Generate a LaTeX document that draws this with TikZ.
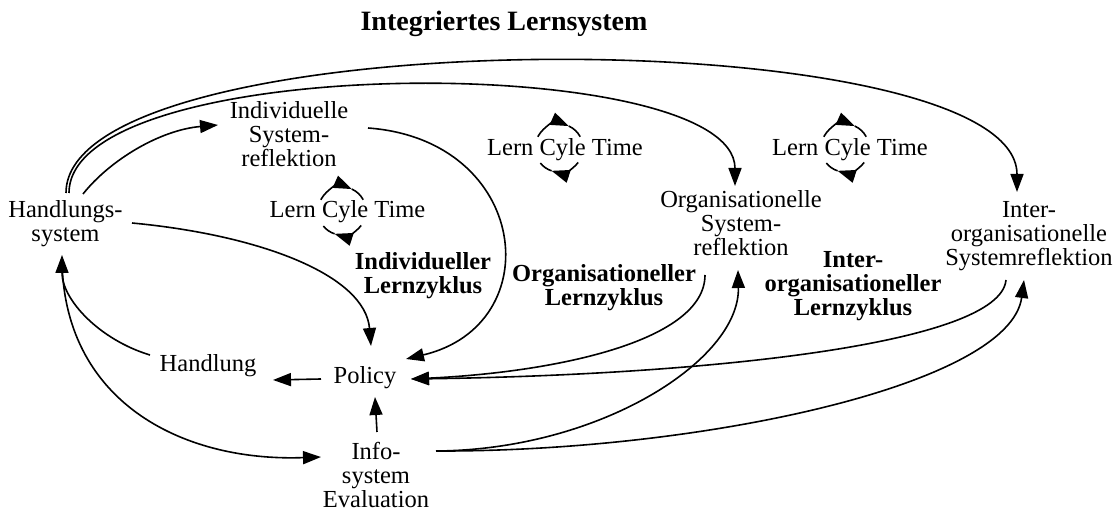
\documentclass[tikz,border=0pt]{standalone}
\usepackage{fontspec}
\setmainfont{Liberation Serif}
\usetikzlibrary{arrows.meta}
\tikzset{
  lcyc/.pic={
    \begin{scope}[x=0.5pt,y=0.5pt]
    \draw[con] (152:24) arc[start angle=152, end angle=66, radius=24];
    \draw[plainline] (66:24) arc[start angle=66, end angle=28, radius=24];
    \draw[con] (-37:24) arc[start angle=-37, end angle=-108, radius=24];
    \draw[plainline] (-108:24) arc[start angle=-108, end angle=-141, radius=24];
    \end{scope}
  }
}
\begin{document}
\begin{tikzpicture}[x=0.5pt,y=-0.5pt,
  every node/.style={inner sep=0pt, align=center, anchor=base, font=\fontsize{12.25pt}{12pt}\selectfont},
  boldtext/.style={font=\fontsize{12.25pt}{12pt}\selectfont\bfseries},
  con/.style={line width=0.8pt, -{Triangle[length=9pt,width=6.5pt]}},
  plainline/.style={line width=0.8pt},
]
\useasboundingbox (0,0) rectangle (1114,517);
% multi-line nodes are placed by the baseline of their last line
\node (title) at (504,31) [font=\fontsize{14pt}{16pt}\selectfont\bfseries] {Integriertes Lernsystem};
\node (hs) at (65.5,242) {Handlungs-\\system};
\node (lct1) at (347.5,218) {Lern Cyle Time};
\node (lct2) at (565,156) {Lern Cyle Time};
\node (lct3) at (850,156) {Lern Cyle Time};
\node (ind) at (289,167) {Individuelle\\System-\\reflektion};
\node (org) at (741,256) {Organisationelle\\System-\\reflektion};
\node (inter) at (1029,266) {Inter-\\organisationelle\\Systemreflektion};
\node[boldtext] (lz1) at (423,294) {Individueller\\Lernzyklus};
\node[boldtext] (lz2) at (604,306) {Organisationeller\\Lernzyklus};
\node[boldtext] (lz3) at (853,316) {Inter-\\organisationeller\\Lernzyklus};
\node (handlung) at (208,372) {Handlung};
\node (policy) at (365,384) {Policy};
\node (info) at (376,508) {Info-\\system\\Evaluation};

\pic at (342,211) {lcyc};
\pic at (559,148) {lcyc};
\pic at (845,148) {lcyc};

\draw[con] ([shift={(3.5,-49)}]hs.base) .. controls (69,51) and (735,51) .. ([shift={(-6,-70)}]org.base);
\draw[con] ([shift={(0.5,-49)}]hs.base) .. controls (66,18) and (1017,18) .. ([shift={(-12,-74)}]inter.base);
\draw[con] ([shift={(17.5,-48)}]hs.base) .. controls (110,160) and (160,130) .. ([shift={(-71,-42)}]ind.base);
\draw[con] ([shift={(66.5,-19)}]hs.base) .. controls (260,235) and (365,275) .. ([shift={(6,-38)}]policy.base);
\draw[con] ([shift={(79,-39)}]ind.base) .. controls (530,140) and (550,325) .. ([shift={(41,-25)}]policy.base);
\draw[con] ([shift={(-36,19)}]org.base) .. controls (705,340) and (560,372) .. ([shift={(46,-5)}]policy.base);
\draw[con] ([shift={(-23,14)}]inter.base) .. controls (1000,345) and (700,375) .. ([shift={(46,-5)}]policy.base);
\draw[con] ([shift={(1,-76)}]info.base) -- ([shift={(10,13)}]policy.base);
\draw[con] ([shift={(-44,-5)}]policy.base) -- ([shift={(65,8)}]handlung.base);
\draw[con] ([shift={(-58,-17)}]handlung.base) .. controls (100,340) and (62,300) .. ([shift={(-3.5,13)}]hs.base);
\draw[con] ([shift={(-3.5,15)}]hs.base) .. controls (62,400) and (180,462) .. ([shift={(-55,-51)}]info.base);
\draw[con] ([shift={(60,-57)}]info.base) .. controls (600,450) and (740,360) .. ([shift={(-3,14)}]org.base);
\draw[con] ([shift={(60,-57)}]info.base) .. controls (700,452) and (1010,385) .. ([shift={(-5,14)}]inter.base);
\end{tikzpicture}
\end{document}
